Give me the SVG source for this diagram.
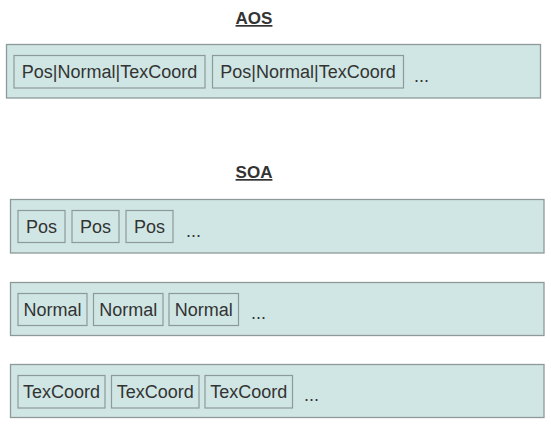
<svg xmlns="http://www.w3.org/2000/svg" width="551" height="426" viewBox="0 0 551 426">
<style>
.bg{fill:#ffffff}
.row{fill:#cfe6e4;stroke:#8e9a99;stroke-width:1.3}
.cell{fill:#cfe6e4;stroke:#8e9a99;stroke-width:1.2}
.t{font-family:"Liberation Sans",Arial,sans-serif;font-size:18px;fill:#333333;text-anchor:middle}
.d{font-family:"Liberation Sans",Arial,sans-serif;font-size:18px;fill:#333333}
.h{font-family:"Liberation Sans",Arial,sans-serif;font-size:17px;font-weight:bold;fill:#333333;text-anchor:middle;text-decoration:underline}
</style>
<rect class="bg" x="0" y="0" width="551" height="426"/>
<text class="h" x="254" y="24">AOS</text>
<text class="h" x="254" y="178">SOA</text>
<g id="aos">
<rect class="row" x="6.5" y="44.5" width="534" height="53.5"/>
<g id="aos1"><rect class="cell" x="14" y="55.5" width="191" height="32.5"/><text class="t" x="109.5" y="78">Pos|Normal|TexCoord</text></g>
<g id="aos2"><rect class="cell" x="212.5" y="55.5" width="191" height="32.5"/><text class="t" x="308" y="78">Pos|Normal|TexCoord</text></g>
<text class="d" x="414" y="82">...</text>
</g>
<g id="soa-pos">
<rect class="row" x="10.5" y="199.5" width="533.5" height="53.5"/>
<g id="pos1"><rect class="cell" x="18" y="210.5" width="47" height="32"/><text class="t" x="41.5" y="233">Pos</text></g>
<g id="pos2"><rect class="cell" x="72" y="210.5" width="47" height="32"/><text class="t" x="95.5" y="233">Pos</text></g>
<g id="pos3"><rect class="cell" x="126" y="210.5" width="47" height="32"/><text class="t" x="149.5" y="233">Pos</text></g>
<text class="d" x="186" y="237">...</text>
</g>
<g id="soa-normal">
<rect class="row" x="10.5" y="282.5" width="533.5" height="53"/>
<g id="n1"><rect class="cell" x="18" y="293.5" width="69" height="32"/><text class="t" x="52.5" y="316">Normal</text></g>
<g id="n2"><rect class="cell" x="93.5" y="293.5" width="69.5" height="32"/><text class="t" x="128.25" y="316">Normal</text></g>
<g id="n3"><rect class="cell" x="169" y="293.5" width="69.5" height="32"/><text class="t" x="203.75" y="316">Normal</text></g>
<text class="d" x="251" y="319">...</text>
</g>
<g id="soa-tex">
<rect class="row" x="10.5" y="364.5" width="533.5" height="53"/>
<g id="tc1"><rect class="cell" x="18" y="375.5" width="87" height="32.5"/><text class="t" x="61.5" y="398">TexCoord</text></g>
<g id="tc2"><rect class="cell" x="111.5" y="375.5" width="87.5" height="32.5"/><text class="t" x="155.25" y="398">TexCoord</text></g>
<g id="tc3"><rect class="cell" x="205" y="375.5" width="87.5" height="32.5"/><text class="t" x="248.75" y="398">TexCoord</text></g>
<text class="d" x="304" y="401">...</text>
</g>
</svg>
